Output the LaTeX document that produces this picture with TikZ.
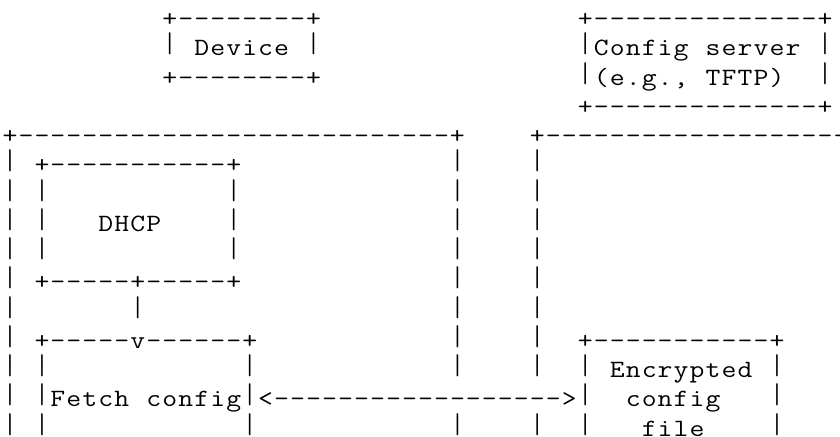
\documentclass[tikz,border=0pt]{standalone}
\usepackage{graphicx}
\ExplSyntaxOn
\dim_new:N \l_asc_w_dim
\dim_set:Nn \l_asc_w_dim {7.99pt}
\cs_new_protected:Npn \asc_char:n #1
  {
    \str_if_eq:nnTF {#1} {*}
      { \hbox_to_wd:nn { \l_asc_w_dim } { \hfil } }
      {
        \str_if_eq:nnTF {#1} {|}
          { \hbox_to_wd:nn { \l_asc_w_dim } { \hfil \raisebox{1.5pt}{\scalebox{1}[1.15]{#1}} \hfil } }
          { \hbox_to_wd:nn { \l_asc_w_dim } { \hfil \scalebox{1.16}[1]{#1} \hfil } }
      }
  }
\NewDocumentCommand \asc { m }
  { \str_map_function:nN {#1} \asc_char:n }
\ExplSyntaxOff
\tikzset{
  ascnode/.style={anchor=base west, inner sep=0pt, outer sep=0pt,
    font=\ttfamily\fontsize{12.44pt}{14pt}\selectfont, text=black}
}
% \ascline{name}{column}{row}{characters; * stands for a blank}
\newcommand\ascline[4]{\node[ascnode] (#1) at (#2,#3) {\asc{#4}};}
\begin{document}
\begin{tikzpicture}[x=7.99pt,y=-14.625pt]
\useasboundingbox[fill=white] (0pt,0pt) rectangle (420pt,-218.5pt);
\clip (0pt,0pt) rectangle (420pt,-218.5pt);
\begin{scope}[xshift=1pt,yshift=-13.375pt]
% Device box
\ascline{devT}{10}{0}{+--------+}
\ascline{devM}{10}{1}{|*Device*|}
\ascline{devB}{10}{2}{+--------+}
% Config server box
\ascline{srvT}{36}{0}{+--------------+}
\ascline{srvA}{36}{1}{|Config*server*|}
\ascline{srvB}{36}{2}{|(e.g.,*TFTP)**|}
\ascline{srvC}{36}{3}{+--------------+}
% device outer box
\ascline{outLT}{0}{4}{+---------------------------+}
\foreach \r in {5,...,14} {\ascline{outL\r}{0}{\r}{|}}
\foreach \r in {5,...,12,14} {\ascline{outR\r}{28}{\r}{|}}
% server outer box
\ascline{outST}{33}{4}{+--------------------}
\foreach \r in {5,...,12,14} {\ascline{outS\r}{33}{\r}{|}}
% DHCP box
\ascline{dhcpT}{2}{5}{+-----------+}
\ascline{dhcpA}{2}{6}{|***********|}
\ascline{dhcpM}{2}{7}{|***DHCP****|}
\ascline{dhcpC}{2}{8}{|***********|}
\ascline{dhcpB}{2}{9}{+-----+-----+}
\ascline{down}{8}{10}{|}
% Fetch config box
\ascline{fetT}{2}{11}{+-----v------+}
\ascline{fetA}{2}{12}{|************|}
\ascline{fetM}{2}{13}{|Fetch*config|}
\ascline{fetB}{2}{14}{|************|}
% arrow
\ascline{arrow}{16}{13}{<------------------>}
% Encrypted config file box
\ascline{encT}{36}{11}{+-----------+}
\ascline{encA}{36}{12}{|*Encrypted*|}
\ascline{encM}{36}{13}{|**config***|}
\ascline{encB}{36}{14}{|***file****|}
\end{scope}
\end{tikzpicture}
\end{document}
